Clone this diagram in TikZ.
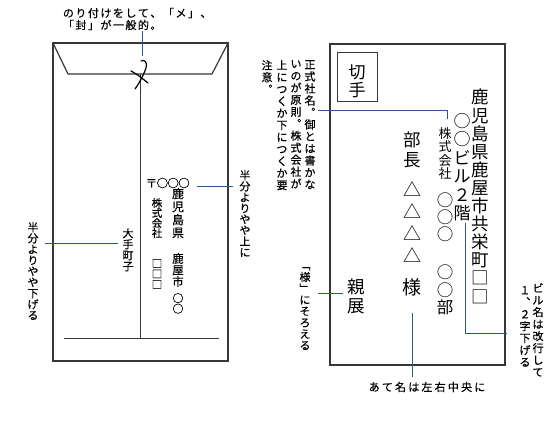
\documentclass[tikz,border=0pt]{standalone}
\usepackage{fontspec}
\newfontfamily\jp{Noto Sans CJK JP}
\newfontfamily\jpb{Noto Sans CJK JP}[FakeBold=0.4]
\newdimen\vtpitch
\def\vtloopa#1{\ifx\relax#1\else\hbox to 1em{\hss#1\hss}\expandafter\vtloopa\fi}
\def\hzloopa#1{\ifx\relax#1\else\hbox to\vtpitch{\hss#1\hss}\expandafter\hzloopa\fi}
\newcommand\vt[2]{\vtop{\vtpitch=#1\relax\baselineskip=\vtpitch\lineskiplimit=-1000pt\lineskip=0pt\vtloopa#2\relax}}
\newcommand\hzt[2]{\hbox{\vtpitch=#1\relax\hzloopa#2\relax}}
\definecolor{leadc}{RGB}{40,88,145}
\definecolor{envc}{RGB}{55,55,55}
\tikzset{
  env/.style={draw=envc, line width=1.2pt},
  lead/.style={draw=leadc, line width=0.9pt},
  lab/.style={inner sep=0pt, font=\jpb\fontsize{11}{11}\selectfont, anchor=north},
  addr/.style={inner sep=0pt, anchor=north},
}
\begin{document}
\begin{tikzpicture}[x=1pt,y=-1pt]
\useasboundingbox (0,0) rectangle (550,437);
% ---------- left envelope (back) ----------
\draw[env] (53,43) rectangle (228,361);
\draw[env] (53,43) -- (68,74) -- (212,74) -- (228,43);
\coordinate (ctop) at (140,74);
\coordinate (cbot) at (140,338);
\draw[env, line width=1pt] (ctop) -- (cbot);
\coordinate (bl) at (64,338);
\coordinate (br) at (219,338);
\draw[env, line width=1pt] (bl) -- (br);
% shime mark
\draw[line width=1.2pt, line cap=round] (141,61) .. controls (144,59) and (148,62) .. (146,68) .. controls (143,76) and (140,82) .. (135,89);
\draw[line width=1.2pt, line cap=round] (131,71) .. controls (138,75) .. (148,83);
% top label
\node[lab, anchor=west] (ttl1) at (62,13) {\hzt{12.5pt}{のり付けをして、「メ」、}};
\node[lab, anchor=west] (ttl2) at (62,25) {\hzt{12.5pt}{「封」が一般的。}};
\coordinate (m1) at (142,31);
\coordinate (m2) at (142,56);
\draw[lead] (m1) -- (m2);
% sender
\node[addr, font=\jpb\fontsize{11.5}{11}\selectfont, anchor=west] (zip) at (146,183) {\hzt{10.8pt}{〒○○○}};
\node[addr, font=\jpb\fontsize{12}{12}\selectfont] (s1) at (178,188) {\vt{13pt}{鹿児島県}};
\node[addr, font=\jpb\fontsize{11.5}{12}\selectfont] (s2) at (178,253) {\vt{11.5pt}{鹿屋市}};
\node[addr, font=\jpb\fontsize{11}{12}\selectfont] (s3) at (178,293) {\vt{10.5pt}{○○}};
\node[addr, font=\jpb\fontsize{10.5}{10}\selectfont] (s4) at (157,198) {\vt{10pt}{株式会社}};
\node[addr, font=\jpb\fontsize{10.5}{10}\selectfont] (s5) at (157,259) {\vt{10.5pt}{□□□}};
\node[addr, font=\jpb\fontsize{11}{11}\selectfont] (s6) at (128,228) {\vt{11pt}{大手町子}};
\coordinate (za) at (197,186);
\coordinate (zb) at (233,186);
\draw[lead] (za) -- (zb);
\node[lab] (lu) at (245,170) {\vt{11pt}{半分よりやや上に}};
\coordinate (na) at (45,243);
\coordinate (nb) at (118,243);
\draw[lead] (na) -- (nb);
\node[lab] (ld) at (33,222) {\vt{11pt}{半分よりやや下げる}};
% ---------- right envelope (front) ----------
\draw[env] (330,44) rectangle (505,365);
\draw[env, line width=1pt] (337,52) rectangle (377,101);
\node[addr, font=\jp\fontsize{17}{18}\selectfont] (stamp) at (357,64) {\vt{18.5pt}{切手}};
\node[addr, font=\jp\fontsize{17.5}{18}\selectfont] (a1) at (480,89) {\vt{18.1pt}{鹿児島県鹿屋市共栄町□□}};
\node[addr, font=\jp\fontsize{17}{18}\selectfont] (a2) at (462,113) {\vt{18.5pt}{○○ビル２階}};
\node[addr, font=\jp\fontsize{13}{13}\selectfont] (a3) at (445,127) {\vt{13.5pt}{株式会社}};
\node[addr, font=\jp\fontsize{16.5}{17}\selectfont] (a4) at (445,193) {\vt{17pt}{○○○}};
\node[addr, font=\jp\fontsize{16.5}{17}\selectfont] (a5) at (445,265) {\vt{17.5pt}{○○部}};
\node[addr, font=\jp\fontsize{17.5}{19}\selectfont] (a6) at (412,132) {\vt{19.5pt}{部長}};
\node[addr, font=\jp\fontsize{18}{17}\selectfont] (a7) at (412,181) {\vt{22.3pt}{△△△△}};
\node[addr, font=\jp\fontsize{19}{19}\selectfont] (a8) at (412,278) {\vt{19pt}{様}};
\node[addr, font=\jp\fontsize{17.5}{19}\selectfont] (a9) at (356,279) {\vt{19pt}{親展}};
% labels right
\node[lab] (r1) at (310,60) {\vt{12pt}{正式社名︒御とは書かな}};
\node[lab] (r2) at (296,60) {\vt{12pt}{いのが原則︒株式会社が}};
\node[lab] (r3) at (282,60) {\vt{12pt}{上につくか下につくか要}};
\node[lab] (r4) at (267,60) {\vt{12pt}{注意︒}};
\coordinate (c1) at (318,110);
\coordinate (c2) at (447,110);
\coordinate (c3) at (447,119);
\draw[lead] (c1) -- (c2) -- (c3);
\coordinate (b1) at (465,223);
\coordinate (b2) at (465,333);
\coordinate (b3) at (507,333);
\draw[lead] (b1) -- (b2) -- (b3);
\node[lab] (bl1) at (538,283) {\vt{12pt}{ビル名は改行して}};
\node[lab] (bl2) at (525,286) {\vt{12pt}{１︑２字下げる}};
\coordinate (o1) at (318,293);
\coordinate (o2) at (343,293);
\draw[lead] (o1) -- (o2);
\node[lab] (ol) at (305,267) {\vt{11.4pt}{﹁様﹂にそろえる}};
\coordinate (s1a) at (412,313);
\coordinate (s1b) at (412,377);
\draw[lead] (s1a) -- (s1b);
\node[lab, anchor=center] (cl) at (427,387) {\hzt{13.2pt}{あて名は左右中央に}};
\end{tikzpicture}
\end{document}
